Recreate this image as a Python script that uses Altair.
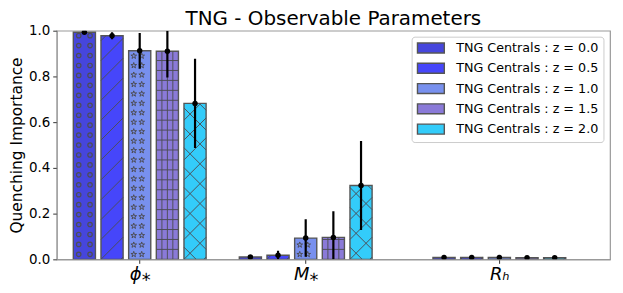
import altair as alt
import pandas as pd

# ---- data ----
params = ["phi", "M", "Rh"]
param_pos = [0, 6, 13]                  # slot index of each group's centre bar
param_labels = ["ϕ⁎", "M⁎", "Rₕ"]
redshifts = ["0.0", "0.5", "1.0", "1.5", "2.0"]
series_labels = [f"TNG Centrals\u00a0:\u00a0z\u00a0=\u00a0{z}" for z in redshifts]
colors = ["#4646dc", "#4646fa", "#7890ee", "#8a7ad8", "#33ccfa"]
hatches = ["o", "/", "*", "+", "x"]

imp_phi = [0.993, 0.978, 0.912, 0.910, 0.682]
err_phi = [0.004, 0.015, 0.078, 0.115, 0.195]
imp_M = [0.010, 0.018, 0.093, 0.096, 0.323]
err_M = [0.003, 0.020, 0.082, 0.114, 0.195]
imp_R = [0.008, 0.008, 0.008, 0.007, 0.007]
err_R = [0.002, 0.002, 0.002, 0.002, 0.002]

values = {"phi": imp_phi, "M": imp_M, "Rh": imp_R}
errors = {"phi": err_phi, "M": err_M, "Rh": err_R}

# ---- geometry of the plot (used only to convert hatch spacing to data units) ----
W_PX, H_PX = 556.6, 230
X_DOM = [-3, 17]
XU = W_PX / (X_DOM[1] - X_DOM[0])   # px per x unit
YU = H_PX                           # px per y unit
HALF = 0.4                          # bar half width (x units)

rows, pts, segs = [], [], []
for p, g in zip(params, param_pos):
    for k, lab in enumerate(series_labels):
        v = values[p][k]
        e = errors[p][k]
        x = g + (k - 2)
        xa, xb = x - HALF, x + HALF
        rows.append({"param": p, "series": lab, "x": x, "x1": xa, "x2": xb,
                     "v": v, "lo": max(v - e, 0), "hi": min(v + e, 1.0)})
        # ---- hatch decoration derived from the bar ----
        Wb = (xb - xa) * XU
        Hb = v * YU
        h = hatches[k]
        if h == "o":
            hh = 5.0
            while hh < Hb - 3:
                for du in (-5.7, 5.7):
                    pts.append({"x": x + du / XU, "y": hh / YU, "kind": h})
                hh += 10.0
        if h == "*":
            hh = 5.0
            while hh < Hb - 3:
                for du in (-6.0, 2.0, 10.0):
                    if abs(du) < 8:
                        pts.append({"x": x + du / XU, "y": hh / YU, "kind": h})
                hh += 9.5
        if h in ("/", "x"):
            for c in range(-40, int(Hb) + 40, 20):
                lo_u, hi_u = max(0, -c), min(Wb, Hb - c)
                if hi_u - lo_u > 0.5:
                    segs.append({"x": xa + lo_u / XU, "y": (lo_u + c) / YU,
                                 "x2": xa + hi_u / XU, "y2": (hi_u + c) / YU})
        if h == "x":
            for c in range(-30, int(Hb) + 40, 20):
                # line h = (Wb - u) + c
                lo_u = max(0, Wb + c - Hb)
                hi_u = min(Wb, Wb + c)
                if hi_u - lo_u > 0.5:
                    segs.append({"x": xa + lo_u / XU, "y": (Wb - lo_u + c) / YU,
                                 "x2": xa + hi_u / XU, "y2": (Wb - hi_u + c) / YU})
        if h == "+":
            hh = 10.0
            while hh < Hb - 1:
                segs.append({"x": xa, "y": hh / YU, "x2": xb, "y2": hh / YU})
                hh += 10.0
            if Hb > 2:
                for du in (-5.5, 0.0, 5.5):
                    segs.append({"x": x + du / XU, "y": 0, "x2": x + du / XU,
                                 "y2": v})

df = pd.DataFrame(rows)
df_pts = pd.DataFrame(pts)
df_segs = pd.DataFrame(segs)

label_expr = (
    f"datum.value == {param_pos[0]} ? '{param_labels[0]}' : "
    f"datum.value == {param_pos[1]} ? '{param_labels[1]}' : '{param_labels[2]}'"
)

xscale = alt.Scale(domain=X_DOM, nice=False, zero=False)
yscale = alt.Scale(domain=[0, 1], nice=False)
HATCH = "#4d4d55"

bars = alt.Chart(df).mark_rect(stroke="#555555", strokeWidth=1.4, clip=True).encode(
    x=alt.X("x1:Q", scale=xscale,
            axis=alt.Axis(values=param_pos, labelExpr=label_expr, title=None)),
    x2="x2:Q",
    y=alt.Y("v:Q", scale=yscale,
            axis=alt.Axis(values=[0, 0.2, 0.4, 0.6, 0.8, 1.0], format=".1f",
                          title="Quenching Importance")),
    y2=alt.datum(0),
    color=alt.Color("series:N",
                    scale=alt.Scale(domain=series_labels, range=colors),
                    legend=alt.Legend(
                        title=None, orient="none", legendX=357, legendY=6,
                        symbolType="M-2.7,-1H2.7V1H-2.7Z", symbolSize=100,
                        symbolStrokeColor="#555555", symbolStrokeWidth=1.4,
                        symbolOffset=8, labelOffset=19,
                        labelFontSize=12.8, labelFont="DejaVu Sans",
                        labelColor="black", rowPadding=3.4,
                        padding=5, fillColor="white", strokeColor="#cccccc",
                        cornerRadius=3)),
)

star_path = ("M0,-1L0.223,-0.307L0.951,-0.309L0.361,0.117L0.588,0.809L0,0.38"
             "L-0.588,0.809L-0.361,0.117L-0.951,-0.309L-0.223,-0.307Z")

circ = alt.Chart(df_pts).transform_filter(alt.datum.kind == "o").mark_point(
    shape="circle", size=20, filled=False, color=HATCH, strokeWidth=1.2,
    opacity=1, clip=True).encode(
    x=alt.X("x:Q", scale=xscale), y=alt.Y("y:Q", scale=yscale))

stars = alt.Chart(df_pts).transform_filter(alt.datum.kind == "*").mark_point(
    shape=star_path, size=36, filled=False, color=HATCH, strokeWidth=1.0,
    opacity=1, clip=True).encode(
    x=alt.X("x:Q", scale=xscale), y=alt.Y("y:Q", scale=yscale))

lines = alt.Chart(df_segs).mark_rule(color=HATCH, strokeWidth=1.0, opacity=0.95,
                                     clip=True).encode(
    x=alt.X("x:Q", scale=xscale), y=alt.Y("y:Q", scale=yscale),
    x2="x2:Q", y2="y2:Q")

errs = alt.Chart(df).mark_rule(color="black", strokeWidth=2.2, clip=True).encode(
    x=alt.X("x:Q", scale=xscale),
    y=alt.Y("lo:Q", scale=yscale),
    y2="hi:Q",
)

dots = alt.Chart(df).mark_circle(color="black", opacity=1, size=30, clip=True).encode(
    x=alt.X("x:Q", scale=xscale),
    y=alt.Y("v:Q", scale=yscale),
)

chart = alt.layer(bars, circ, stars, lines, errs, dots).properties(
    width=W_PX, height=H_PX,
    title=alt.TitleParams("TNG - Observable Parameters", fontSize=20,
                          font="DejaVu Sans", fontWeight="normal",
                          color="black", anchor="middle", offset=-5),
    padding={"left": 1, "top": 0, "right": 5, "bottom": 5},
).configure(font="DejaVu Sans", background="white"
).configure_view(stroke="#999999", strokeWidth=1.2).configure_axisX(
    grid=False, labelFontSize=18, labelFontStyle="italic",
    labelFont="DejaVu Sans", labelColor="black", tickSize=4, tickColor="#333",
    domainColor="#999", labelPadding=2,
).configure_axisY(
    grid=False, labelFontSize=13.5, titleFontSize=15.5,
    titleFontWeight="normal", titleColor="black", labelColor="black",
    labelFont="DejaVu Sans", titleFont="DejaVu Sans", tickSize=4,
    tickColor="#333", domainColor="#999", labelPadding=3, titlePadding=4,
)

chart.save("out.html", embed_options={"renderer": "svg", "actions": False})
